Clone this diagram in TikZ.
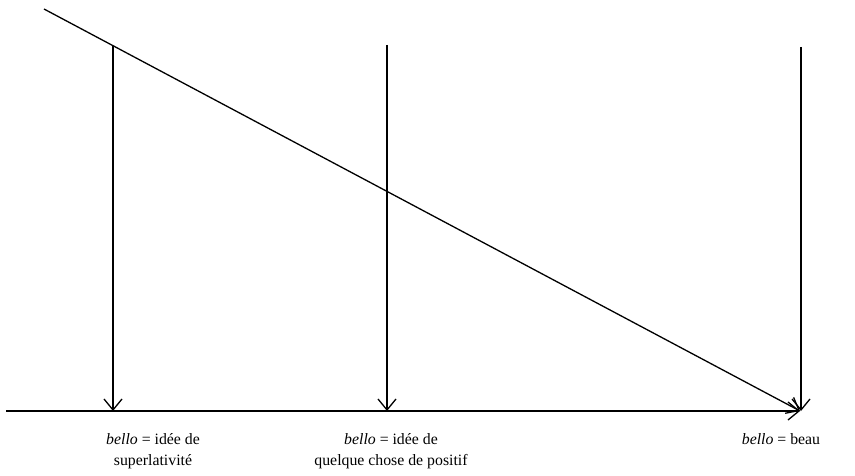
\documentclass[tikz,border=0pt]{standalone}
\usepackage{fontspec}
\setmainfont{Liberation Serif}
\usetikzlibrary{arrows.meta}
\begin{document}
\begin{tikzpicture}[x=1pt,y=-1pt,
  conn/.style={line width=1.3pt,-{Straight Barb[length=11pt,width=18pt,line width=1.3pt]}},
  lab/.style={font=\fontsize{15.8}{21}\selectfont,align=center,inner sep=0pt,anchor=north}]
\useasboundingbox (0,0) rectangle (855,476);
\coordinate (hs) at (6,411);
\coordinate (he) at (800,411);
\coordinate (ds) at (44,9);
\coordinate (v1t) at (113,46);
\coordinate (v1b) at (113,411);
\coordinate (v2t) at (387,45);
\coordinate (v2b) at (387,411);
\coordinate (v3t) at (801,47);
\coordinate (v3b) at (801,411);
\draw[conn] (hs) -- (he);
\draw[conn] (ds) -- (he);
\draw[conn] (v1t) -- (v1b);
\draw[conn] (v2t) -- (v2b);
\draw[conn] (v3t) -- (v3b);
\node[lab] (t1) at (153,433) {\textit{bello} = idée de\\superlativité};
\node[lab] (t2) at (391,433) {\textit{bello} = idée de\\quelque chose de positif};
\node[lab] (t3) at (781,433) {\textit{bello} = beau};
\end{tikzpicture}
\end{document}
